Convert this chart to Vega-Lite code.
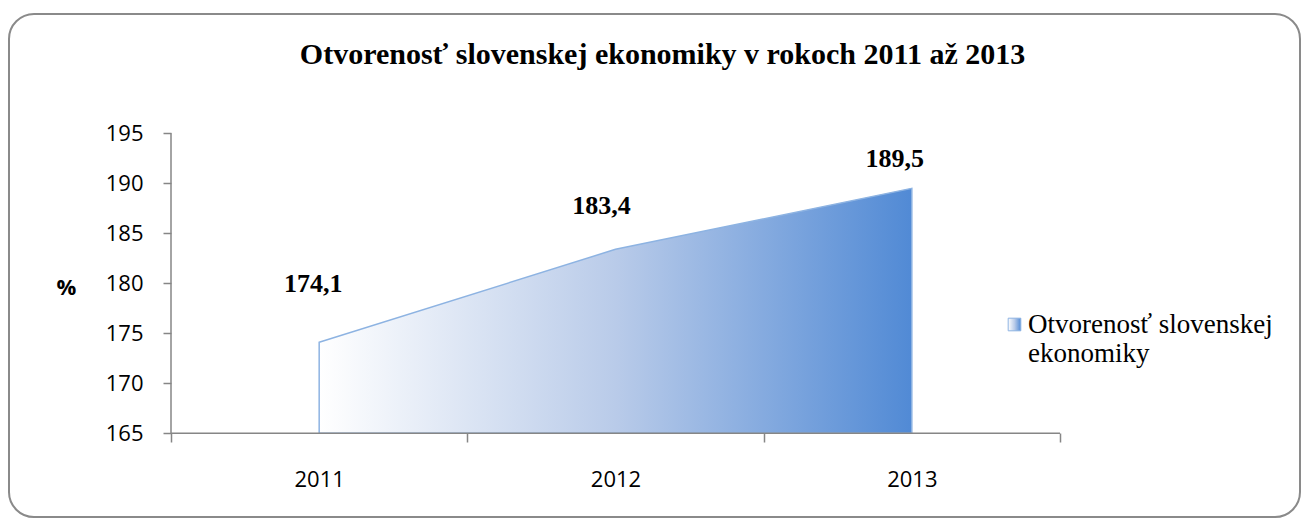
{
  "$schema": "https://vega.github.io/schema/vega-lite/v6.json",
  "width": 1291,
  "height": 503,
  "autosize": {"type": "none"},
  "padding": {"left": 9, "top": 14, "right": 7, "bottom": 3},
  "background": "white",
  "config": {
    "view": {"stroke": "#8a8a8a", "strokeWidth": 2, "cornerRadius": 25}
  },
  "title": {
    "text": "Otvorenosť slovenskej ekonomiky v rokoch 2011 až 2013",
    "font": "Liberation Serif",
    "fontSize": 30,
    "fontWeight": "bold",
    "color": "black",
    "anchor": "middle",
    "frame": "group",
    "offset": -48,
    "baseline": "alphabetic",
    "dx": 8,
    "dy": 32
  },
  "data": {
    "values": [
      {"year": "2011", "value": 174.1, "label": "174,1"},
      {"year": "2012", "value": 183.4, "label": "183,4"},
      {"year": "2013", "value": 189.5, "label": "189,5"}
    ]
  },
  "layer": [
    {
      "mark": {
        "type": "area",
        "fill": {
          "gradient": "linear",
          "x1": 0, "y1": 0, "x2": 1, "y2": 0,
          "stops": [
            {"offset": 0, "color": "#ffffff"},
            {"offset": 0.5, "color": "#b9cbe9"},
            {"offset": 1, "color": "#518ad5"}
          ]
        },
        "fillOpacity": 1,
        "strokeWidth": 1.5
      },
      "encoding": {
        "x": {
          "field": "year",
          "type": "ordinal",
          "scale": {"type": "band", "paddingInner": 0, "paddingOuter": 0.6783, "align": 0.403},
          "axis": {
            "title": null,
            "domain": false,
            "grid": false,
            "ticks": true,
            "tickBand": "extent",
            "tickSize": 9,
            "tickColor": "#868686",
            "tickWidth": 1.5,
            "labelFont": "Open Sans",
            "labelFontSize": 22,
            "labelColor": "black",
            "labelPadding": 37,
            "labelBaseline": "middle",
            "labelAngle": 0,
            "offset": -84
          }
        },
        "y": {
          "field": "value",
          "type": "quantitative",
          "scale": {"domain": [156.63, 206.93], "nice": false, "zero": false},
          "axis": {
            "title": "%",
            "titleAngle": 0,
            "titleX": -105,
            "titleY": 273,
            "titleAlign": "center",
            "titleBaseline": "middle",
            "titleFont": "Open Sans",
            "titleFontSize": 22,
            "titleFontWeight": "bold",
            "titleColor": "black",
            "values": [165, 170, 175, 180, 185, 190, 195],
            "domain": false,
            "grid": false,
            "tickSize": 8,
            "tickColor": "#868686",
            "tickWidth": 1.5,
            "labelFont": "Open Sans",
            "labelFontSize": 22,
            "labelColor": "black",
            "labelPadding": 20,
            "offset": -162
          }
        },
        "y2": {"datum": 165},
        "stroke": {
          "datum": "Otvorenosť slovenskej ekonomiky",
          "type": "nominal",
          "scale": {"range": ["#8db3e2"]},
          "legend": {
            "title": null,
            "orient": "none",
            "legendX": 992,
            "legendY": 297,
            "padding": 0,
            "symbolType": "square",
            "symbolSize": 160,
            "symbolStrokeWidth": 1,
            "labelFont": "Liberation Serif",
            "labelFontSize": 27,
            "labelColor": "black",
            "labelLimit": 500,
            "labelOffset": 0,
            "labelBaseline": "middle",
            "labelExpr": "['Otvorenosť slovenskej', 'ekonomiky']",
            "encode": {
              "symbols": {
                "update": {
                  "fill": {
                    "value": {
                      "gradient": "linear",
                      "x1": 0, "y1": 0, "x2": 1, "y2": 1,
                      "stops": [
                        {"offset": 0, "color": "#ffffff"},
                        {"offset": 1, "color": "#6b9bdb"}
                      ]
                    }
                  },
                  "fillOpacity": {"value": 1}
                }
              }
            }
          }
        }
      }
    },
    {
      "data": {"values": [{}]},
      "mark": {"type": "rule", "color": "#868686", "strokeWidth": 1.5},
      "encoding": {
        "x": {"datum": "2011", "type": "ordinal", "bandPosition": 0},
        "y": {"datum": 165},
        "y2": {"datum": 195}
      }
    },
    {
      "data": {"values": [{}]},
      "mark": {"type": "rule", "color": "#868686", "strokeWidth": 1.5},
      "encoding": {
        "x": {"datum": "2011", "type": "ordinal", "bandPosition": 0},
        "x2": {"datum": "2013", "bandPosition": 1},
        "y": {"datum": 165}
      }
    },
    {
      "transform": [{"filter": "datum.year === '2011'"}],
      "mark": {"type": "text", "font": "Liberation Serif", "fontSize": 26, "fontWeight": "bold", "color": "black", "baseline": "alphabetic", "dx": -6, "dy": -50},
      "encoding": {
        "x": {"field": "year", "type": "ordinal"},
        "y": {"field": "value", "type": "quantitative"},
        "text": {"field": "label"}
      }
    },
    {
      "transform": [{"filter": "datum.year === '2012'"}],
      "mark": {"type": "text", "font": "Liberation Serif", "fontSize": 26, "fontWeight": "bold", "color": "black", "baseline": "alphabetic", "dx": -14, "dy": -35},
      "encoding": {
        "x": {"field": "year", "type": "ordinal"},
        "y": {"field": "value", "type": "quantitative"},
        "text": {"field": "label"}
      }
    },
    {
      "transform": [{"filter": "datum.year === '2013'"}],
      "mark": {"type": "text", "font": "Liberation Serif", "fontSize": 26, "fontWeight": "bold", "color": "black", "baseline": "alphabetic", "dx": -17, "dy": -21},
      "encoding": {
        "x": {"field": "year", "type": "ordinal"},
        "y": {"field": "value", "type": "quantitative"},
        "text": {"field": "label"}
      }
    }
  ]
}
